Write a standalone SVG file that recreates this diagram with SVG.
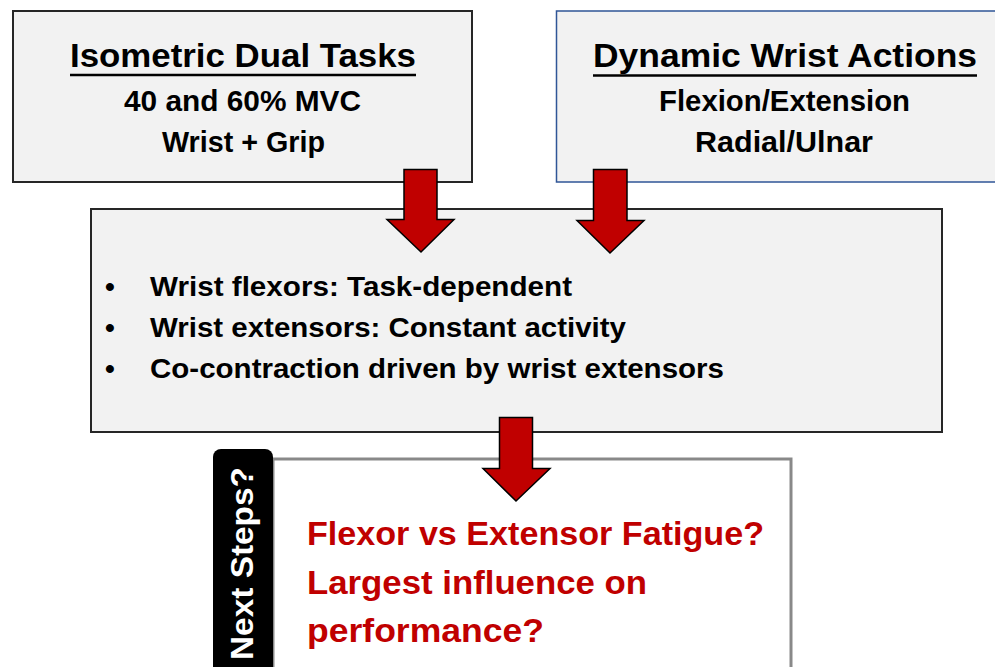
<svg xmlns="http://www.w3.org/2000/svg" width="995" height="667" viewBox="0 0 995 667">
  <style>
    .box { fill: #F2F2F2; stroke: #262626; stroke-width: 2; }
    .t { font-family: "Liberation Sans", Arial, sans-serif; font-weight: bold; fill: #000; }
    .red { fill: #C00000; }
    .ul { stroke: #000; stroke-width: 2.5; }
    .arrow { fill: #C00000; stroke: #000; stroke-width: 1.5; stroke-linejoin: miter; }
  </style>
  <rect width="995" height="667" fill="#FFFFFF"/>

  <g id="isometric">
    <rect class="box" x="13" y="11" width="459" height="171"/>
    <text class="t" x="70" y="67" font-size="33.5" textLength="346" lengthAdjust="spacingAndGlyphs">Isometric Dual Tasks</text>
    <line class="ul" x1="70" y1="75" x2="416" y2="75"/>
    <text class="t" x="124" y="111" font-size="30" textLength="237" lengthAdjust="spacingAndGlyphs">40 and 60% MVC</text>
    <text class="t" x="162" y="152" font-size="30" textLength="163" lengthAdjust="spacingAndGlyphs">Wrist + Grip</text>
  </g>

  <g id="dynamic">
    <rect x="556.5" y="11" width="450" height="171" fill="#F2F2F2" stroke="#2F5597" stroke-width="1.5"/>
    <text class="t" x="593" y="67" font-size="33.5" textLength="384" lengthAdjust="spacingAndGlyphs">Dynamic Wrist Actions</text>
    <line class="ul" x1="593" y1="75.5" x2="977" y2="75.5"/>
    <text class="t" x="659" y="111" font-size="30" textLength="251" lengthAdjust="spacingAndGlyphs">Flexion/Extension</text>
    <text class="t" x="695" y="152" font-size="30" textLength="178" lengthAdjust="spacingAndGlyphs">Radial/Ulnar</text>
  </g>

  <g id="findings">
    <rect class="box" x="91" y="209" width="851" height="223"/>
    <text class="t" x="105" y="296" font-size="28">•</text>
    <text class="t" x="150" y="296" font-size="28" textLength="422" lengthAdjust="spacingAndGlyphs">Wrist flexors: Task-dependent</text>
    <text class="t" x="105" y="337" font-size="28">•</text>
    <text class="t" x="150" y="337" font-size="28" textLength="476" lengthAdjust="spacingAndGlyphs">Wrist extensors: Constant activity</text>
    <text class="t" x="105" y="378" font-size="28">•</text>
    <text class="t" x="150" y="378" font-size="28" textLength="574" lengthAdjust="spacingAndGlyphs">Co-contraction driven by wrist extensors</text>
  </g>

  <g id="next-steps">
    <rect x="273" y="459" width="518" height="240" fill="#FFFFFF" stroke="#898989" stroke-width="3"/>
    <rect x="213" y="449" width="60" height="240" rx="8" ry="8" fill="#000000"/>
    <text class="t" transform="translate(253,660) rotate(-90)" x="0" y="0" font-size="30.5" style="fill:#FFFFFF" textLength="193" lengthAdjust="spacingAndGlyphs">Next Steps?</text>
    <text class="t red" x="307" y="545" font-size="33" textLength="457" lengthAdjust="spacingAndGlyphs">Flexor vs Extensor Fatigue?</text>
    <text class="t red" x="307" y="594" font-size="33" textLength="340" lengthAdjust="spacingAndGlyphs">Largest influence on</text>
    <text class="t red" x="307" y="642" font-size="33" textLength="237" lengthAdjust="spacingAndGlyphs">performance?</text>
  </g>

  <g id="connectors">
    <polygon class="arrow" points="404,169.5 437,169.5 437,219.5 454,219.5 421,252 387,219.5 404,219.5"/>
    <polygon class="arrow" points="593.5,169.5 627,169.5 627,220.5 644,220.5 610,253 577,220.5 593.5,220.5"/>
    <polygon class="arrow" points="499.5,417.5 532.5,417.5 532.5,468.5 550,468.5 516,501 483,468.5 499.5,468.5"/>
  </g>
</svg>
